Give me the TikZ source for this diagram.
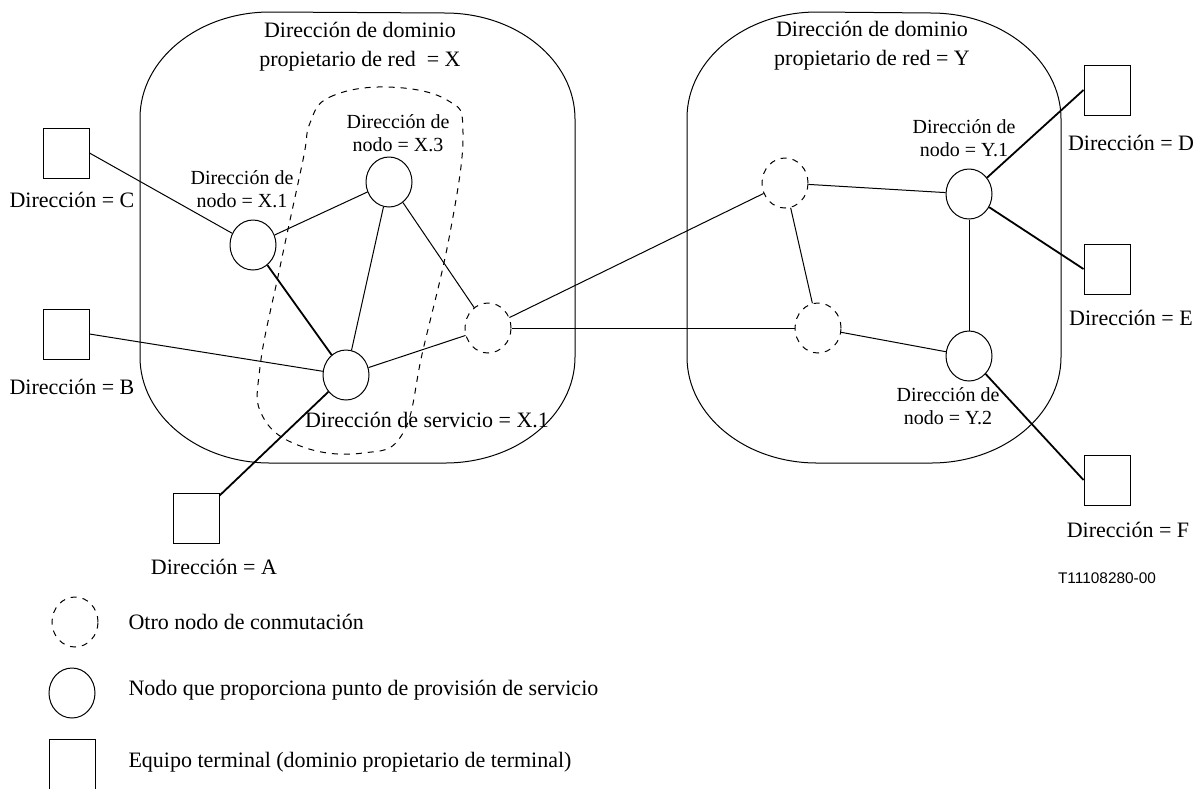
\documentclass[tikz,border=0pt]{standalone}
\usepackage{fontspec}
\setmainfont{Liberation Serif}
\newfontfamily\tagfont{Liberation Sans}
\usetikzlibrary{shapes.geometric}

\begin{document}
\begin{tikzpicture}[x=0.5pt,y=-0.5pt,line width=0.5pt,
  svc/.style={draw,ellipse,minimum width=23pt,minimum height=25pt,inner sep=0pt},
  sw/.style={svc,dash pattern=on 3pt off 3pt},
  term/.style={draw,minimum width=23pt,minimum height=25pt,inner sep=0pt},
  lbl/.style={align=center,inner sep=0pt,font=\fontsize{10}{11.5}\selectfont},
  big/.style={align=center,inner sep=0pt,font=\fontsize{11}{14.5}\selectfont},
  heavy/.style={line width=0.9pt},
  corner/.style={x radius=65pt,y radius=53pt}]
\useasboundingbox (0,0) rectangle (1197,788);

% dominios
\draw (140,118) arc[corner,start angle=180,end angle=90] -- (445,13)
  arc[corner,start angle=90,end angle=0] -- (575,357)
  arc[corner,start angle=0,end angle=-90] -- (270,463)
  arc[corner,start angle=-90,end angle=-180] -- cycle;
\draw (687,118) arc[corner,start angle=180,end angle=90] -- (931,13)
  arc[corner,start angle=90,end angle=0] -- (1061,357)
  arc[corner,start angle=0,end angle=-90] -- (817,463)
  arc[corner,start angle=-90,end angle=-180] -- cycle;
\node[big] (tX) at (360,47) {Dirección de dominio\\propietario de red\ \ = X};
\node[big] (tY) at (872,46) {Dirección de dominio\\propietario de red = Y};

% zona de servicio
\draw[dashed] plot[smooth cycle,tension=0.7] coordinates {(310,123) (330,97) (387,87) (447,100) (463,133)
  (450,233) (423,350) (403,433) (363,453) (303,447) (263,417) (260,367) (280,267) (303,160)};

% nodos
\node[svc] (X1) at (253,245) {};
\node[svc] (X3) at (389,182) {};
\node[svc] (S) at (346,375) {};
\node[sw] (W1) at (488,328) {};
\node[sw] (W2) at (785,183) {};
\node[sw] (W3) at (818,328) {};
\node[svc] (Y1) at (969,194) {};
\node[svc] (Y2) at (969,356) {};

\node[lbl] (lX1) at (242,189) {Dirección de\\nodo = X.1};
\node[lbl] (lX3) at (398,133) {Dirección de\\nodo = X.3};
\node[lbl] (lY1) at (964,138) {Dirección de\\nodo = Y.1};
\node[lbl] (lY2) at (948,406) {Dirección de\\nodo = Y.2};
\node[big] (lS) at (427,420) {Dirección de servicio = X.1};

% terminales
\node[term] (C) at (66,153) {};
\node[term] (B) at (66,334) {};
\node[term] (A) at (196,518) {};
\node[term] (D) at (1107,90) {};
\node[term] (E) at (1107,269) {};
\node[term] (F) at (1107,480) {};
\node[big] (lC) at (72,200) {Dirección = C};
\node[big] (lB) at (72,387) {Dirección = B};
\node[big] (lA) at (214,567) {Dirección = A};
\node[big] (lD) at (1131,143) {Dirección = D};
\node[big] (lE) at (1131,318) {Dirección = E};
\node[big] (lF) at (1128,530) {Dirección = F};

% enlaces
\draw (C.east) -- (X1);
\draw (B.east) -- (S);
\draw[heavy] (A) -- (S);
\draw (X1) -- (X3);
\draw[heavy] (X1) -- (S);
\draw (X3) -- (S);
\draw (X3) -- (W1);
\draw (S) -- (W1);
\draw (W1) -- (W2);
\draw (W1) -- (W3);
\draw (W2) -- (Y1);
\draw (W2) -- (W3);
\draw (W3) -- (Y2);
\draw (Y1) -- (Y2);
\draw[heavy] (Y1) -- (D.west);
\draw[heavy] (Y1) -- (E.west);
\draw[heavy] (Y2) -- (F.west);

\node[inner sep=0pt,font=\tagfont\fontsize{7.7}{9}\selectfont] (ref) at (1107,578) {T11108280-00};

% leyenda
\node[sw] (k1) at (75,622) {};
\node[svc] (k2) at (72,693) {};
\node[term] (k3) at (72,764) {};
\node[big,anchor=west] (t1) at (128,622) {Otro nodo de conmutación};
\node[big,anchor=west] (t2) at (128,690) {Nodo que proporciona punto de provisión de servicio};
\node[big,anchor=west] (t3) at (128,762) {Equipo terminal (dominio propietario de terminal)};
\end{tikzpicture}
\end{document}
